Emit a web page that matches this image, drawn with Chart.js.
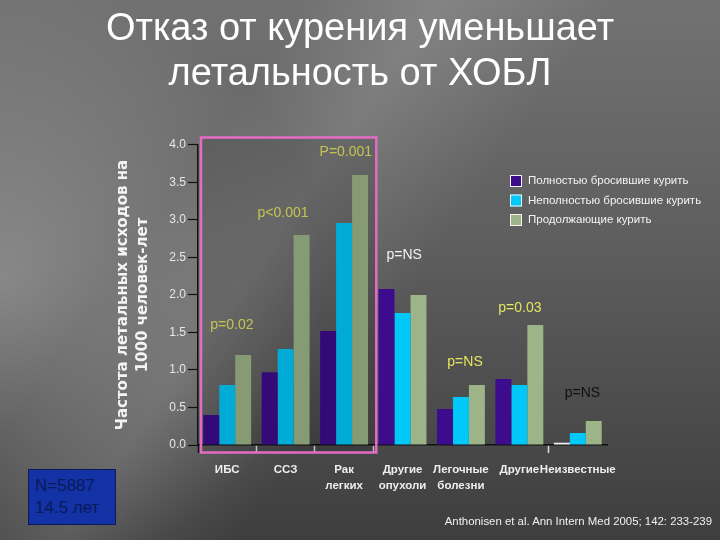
<!DOCTYPE html>
<html lang="ru">
<head>
<meta charset="UTF-8">
<title>Отказ от курения</title>
<script src="https://cdn.jsdelivr.net/npm/chart.js"></script>
<style>
  html, body {
    margin: 0;
    padding: 0;
  }
  body {
    width: 720px;
    height: 540px;
    position: relative;
    overflow: hidden;
    background:
      linear-gradient(125deg, rgba(255,255,255,0) 28%, rgba(255,255,255,0.13) 40%, rgba(255,255,255,0) 56%),
      radial-gradient(ellipse 45% 55% at 0% 52%, rgba(255,255,255,0.28), rgba(255,255,255,0)),
      linear-gradient(to bottom, #727272 0%, #5e5e5e 45%, #3e3e3e 100%);
  }
  #chart {
    position: absolute;
    left: 0;
    top: 0;
  }
  .nbox {
    position: absolute;
    left: 28px;
    top: 469px;
    width: 88px;
    height: 56px;
    background: #1232a6;
    border: 1px solid #0a1a55;
    color: #0b1a58;
    font-family: "Liberation Sans", Arial, sans-serif;
    font-size: 17px;
    line-height: 22px;
    padding: 5px 0 0 6px;
    box-sizing: border-box;
  }
  .cite {
    position: absolute;
    right: 8px;
    top: 515px;
    color: #f0f0f0;
    font-family: "Liberation Sans", Arial, sans-serif;
    font-size: 11.4px;
  }
</style>
</head>
<body>
<canvas id="chart" width="720" height="540"></canvas>
<div class="nbox">N=5887<br>14.5 лет</div>
<div class="cite">Anthonisen et al. Ann Intern Med 2005; 142: 233-239</div>
<script>
// causes of death
const categories = [['ИБС'], ['ССЗ'], ['Рак', 'легких'], ['Другие', 'опухоли'], ['Легочные', 'болезни'], ['Другие'], ['Неизвестные']];
const seriesNames = ['Полностью бросившие курить', 'Неполностью бросившие курить', 'Продолжающие курить'];

// deaths per 1000 person-years
const quitFully = [0.40, 0.97, 1.52, 2.08, 0.48, 0.88, 0.03];
const quitPartly = [0.80, 1.28, 2.96, 1.76, 0.64, 0.80, 0.16];
const stillSmoking = [1.20, 2.80, 3.60, 2.00, 0.80, 1.60, 0.32];

const yTicks = [0, 0.5, 1, 1.5, 2, 2.5, 3, 3.5, 4];

// p-values over the groups (x = category index, y = value on axis)
const pLabels = ['p=0.02', 'p<0.001', 'P=0.001', 'p=NS', 'p=NS', 'p=0.03', 'p=NS'];
const pX = [0.08, 0.955, 2.03, 3.03, 4.07, 5.01, 6.08];
const pY = [1.6, 3.09, 3.91, 2.53, 1.11, 1.83, 0.69];
const pColors = ['#e4e45e', '#e4e45e', '#e4e45e', '#f2f2f2', '#e4e45e', '#e4e45e', '#111111'];

const colors = ['#3d0c8c', '#00c8f8', '#9cb488'];

// extra drawing: p-values, pink box, legend
const extras = {
  id: 'extras',
  afterDatasetsDraw(chart) {
    const ctx = chart.ctx;
    const xs = chart.scales.x;
    const ys = chart.scales.y;
    ctx.save();
    ctx.font = '14px "Liberation Sans", Arial, sans-serif';
    ctx.textAlign = 'center';
    ctx.textBaseline = 'middle';
    pLabels.forEach((t, i) => {
      ctx.fillStyle = pColors[i];
      ctx.fillText(t, xs.getPixelForValue(pX[i]), ys.getPixelForValue(pY[i]));
    });

    // highlight box around first three groups
    const half = (xs.getPixelForValue(1) - xs.getPixelForValue(0)) / 2;
    const l = xs.left + 3;
    const r = xs.getPixelForValue(2) + half + 3;
    const t = ys.getPixelForValue(4.1);
    const b = ys.getPixelForValue(-0.1);
    ctx.fillStyle = 'rgba(0,0,0,0.14)';
    ctx.fillRect(l, t, r - l, b - t);
    ctx.strokeStyle = '#e46cc4';
    ctx.lineWidth = 2.5;
    ctx.strokeRect(l, t, r - l, b - t);

    // legend
    ctx.font = '11.5px "Liberation Sans", Arial, sans-serif';
    ctx.textAlign = 'left';
    seriesNames.forEach((name, i) => {
      const y = 181 + i * 19.5;
      ctx.fillStyle = colors[i];
      ctx.fillRect(510, y - 6, 12, 12);
      ctx.strokeStyle = '#f4f4f4';
      ctx.lineWidth = 1;
      ctx.strokeRect(510.5, y - 5.5, 11, 11);
      ctx.fillStyle = '#f4f4f4';
      ctx.fillText(name, 528, y);
    });
    ctx.restore();
  }
};

const tickIdx = [1, 2, 3, 6];

new Chart(document.getElementById('chart'), {
  type: 'bar',
  data: {
    labels: categories,
    datasets: [
      { label: seriesNames[0], data: quitFully, backgroundColor: quitFully.map((v, i) => i === 6 ? '#f4f4f4' : colors[0]) },
      { label: seriesNames[1], data: quitPartly, backgroundColor: colors[1] },
      { label: seriesNames[2], data: stillSmoking, backgroundColor: colors[2] }
    ]
  },
  options: {
    responsive: false,
    animation: false,
    layout: { padding: 0 },
    datasets: { bar: { categoryPercentage: 0.82, barPercentage: 1 } },
    plugins: {
      legend: { display: false },
      tooltip: { enabled: false },
      title: {
        display: true,
        text: ['Отказ от курения уменьшает', 'летальность от ХОБЛ'],
        color: '#ffffff',
        font: { family: '"Liberation Sans", Arial, sans-serif', size: 38, weight: 'normal', lineHeight: 1.184 },
        padding: { top: 7, bottom: 48 }
      }
    },
    scales: {
      x: {
        afterFit: s => { s.height = 95; },
        grid: {
          offset: true,
          drawOnChartArea: false,
          tickLength: 8,
          tickWidth: 1.5,
          color: c => c.index === 0 ? '#111111' : (tickIdx.includes(c.index) ? '#dddddd' : 'rgba(0,0,0,0)')
        },
        border: { color: '#111111', width: 1.5 },
        ticks: {
          color: '#eeeeee',
          padding: 8,
          maxRotation: 0,
          autoSkip: false,
          font: { family: '"Liberation Sans", Arial, sans-serif', size: 11.5, weight: 'bold', lineHeight: 1.45 }
        }
      },
      y: {
        min: 0,
        max: 4,
        afterFit: s => { s.width = 198; },
        afterBuildTicks: s => { s.ticks = yTicks.map(v => ({ value: v })); },
        grid: { drawOnChartArea: false, tickLength: 10, color: '#111111', tickWidth: 1.2 },
        border: { color: '#111111', width: 1.5 },
        ticks: {
          color: '#e8e8e8',
          padding: 2,
          font: { family: '"Liberation Sans", Arial, sans-serif', size: 12 },
          callback: v => v.toFixed(1)
        },
        title: {
          display: true,
          text: ['Частота летальных исходов на', '1000 человек-лет'],
          color: '#f4f4f4',
          font: { family: '"DejaVu Sans", sans-serif', size: 15, weight: 'bold', lineHeight: 1.33 },
          padding: { top: 113, bottom: 0 }
        }
      },
      // empty right-hand axis: keeps the space right of the plot (legend area)
      side: {
        position: 'right',
        display: true,
        min: 0,
        max: 4,
        afterFit: s => { s.width = 113; },
        grid: { display: false },
        border: { display: false },
        ticks: { display: false }
      }
    }
  },
  plugins: [extras]
});
</script>
</body>
</html>
